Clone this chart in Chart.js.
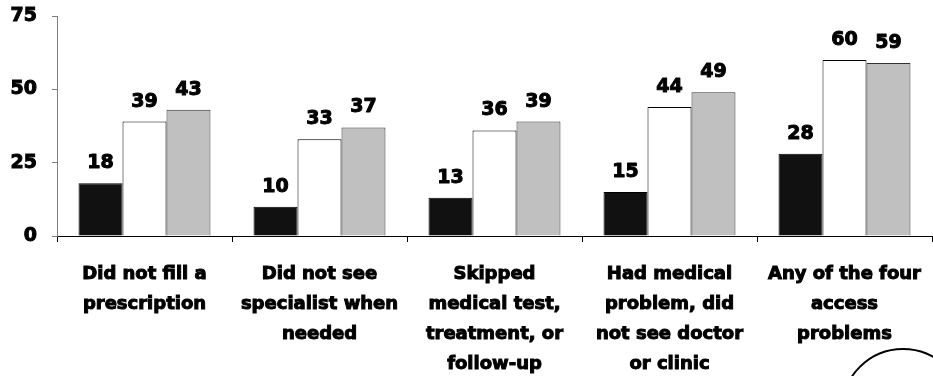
<!DOCTYPE html>
<html>
<head>
<meta charset="utf-8">
<script src="https://cdn.jsdelivr.net/npm/chart.js@4.4.0/dist/chart.umd.min.js"></script>
<style>
  html, body { margin: 0; padding: 0; background: #fff; overflow: hidden; }
  #wrap { position: relative; width: 933px; height: 376px; overflow: hidden; }
  #ring { position: absolute; left: 841px; top: 348px; width: 124px; height: 124px;
          border: 2px solid #000; border-radius: 50%; box-sizing: border-box; }
</style>
</head>
<body>
<div id="wrap">
  <canvas id="c" width="933" height="376"></canvas>
  <div id="ring"></div>
</div>
<script>
const categories = [
  ["Did not fill a", "prescription"],
  ["Did not see", "specialist when", "needed"],
  ["Skipped", "medical test,", "treatment, or", "follow-up"],
  ["Had medical", "problem, did", "not see doctor", "or clinic"],
  ["Any of the four", "access", "problems"]
];
const seriesBlack = [18, 10, 13, 15, 28];
const seriesWhite = [39, 33, 36, 44, 60];
const seriesGray  = [43, 37, 39, 49, 59];
const yTicks = [0, 25, 50, 75];

const FONT = "'DejaVu Sans', sans-serif";

const valueLabels = {
  id: 'valueLabels',
  afterDatasetsDraw(chart) {
    const ctx = chart.ctx;
    ctx.save();
    ctx.font = "bold 19px " + FONT;
    ctx.fillStyle = '#000';
    ctx.strokeStyle = '#000';
    ctx.lineWidth = 1;
    ctx.lineJoin = 'round';
    ctx.textAlign = 'center';
    ctx.textBaseline = 'alphabetic';
    chart.data.datasets.forEach((ds, i) => {
      const meta = chart.getDatasetMeta(i);
      meta.data.forEach((el, j) => {
        const t = String(ds.data[j]);
        ctx.strokeText(t, el.x, el.y - 15);
        ctx.fillText(t, el.x, el.y - 15);
      });
    });
    ctx.restore();
  }
};

new Chart(document.getElementById('c'), {
  type: 'bar',
  data: {
    labels: categories,
    datasets: [
      { data: seriesBlack, backgroundColor: '#111111', borderColor: '#000', borderWidth: 1 },
      { data: seriesWhite, backgroundColor: '#ffffff', borderColor: '#000', borderWidth: 1 },
      { data: seriesGray,  backgroundColor: '#c0c0c0', borderColor: '#333', borderWidth: 1 }
    ]
  },
  options: {
    responsive: false,
    animation: false,
    devicePixelRatio: 1,
    layout: { padding: { top: 16, right: 1, left: 0, bottom: 0 } },
    plugins: { legend: { display: false }, tooltip: { enabled: false } },
    datasets: { bar: { categoryPercentage: 0.754, barPercentage: 1.0 } },
    scales: {
      x: {
        grid: { offset: true, drawOnChartArea: false, drawTicks: true, tickLength: 6, color: '#000' },
        border: { display: true, color: '#000', width: 1 },
        ticks: {
          color: '#000',
          font: { family: FONT, size: 18, weight: 'bold', lineHeight: '30px' },
          textStrokeColor: '#000',
          textStrokeWidth: 1,
          padding: 17,
          maxRotation: 0,
          autoSkip: false
        },
        afterFit(s) { s.height = 140; s.paddingLeft = 0; s.paddingRight = 0; }
      },
      y: {
        min: 0, max: 75,
        afterBuildTicks(s) { s.ticks = yTicks.map(v => ({ value: v })); },
        grid: { drawOnChartArea: false, drawTicks: true, tickLength: 5, color: '#808080' },
        border: { display: true, color: '#808080', width: 1 },
        ticks: {
          color: '#000',
          font: { family: FONT, size: 19, weight: 'bold' },
          textStrokeColor: '#000',
          textStrokeWidth: 1,
          padding: 15
        },
        afterFit(s) { s.width = 57; s.paddingTop = 0; s.paddingBottom = 0; }
      }
    }
  },
  plugins: [valueLabels]
});
</script>
</body>
</html>
